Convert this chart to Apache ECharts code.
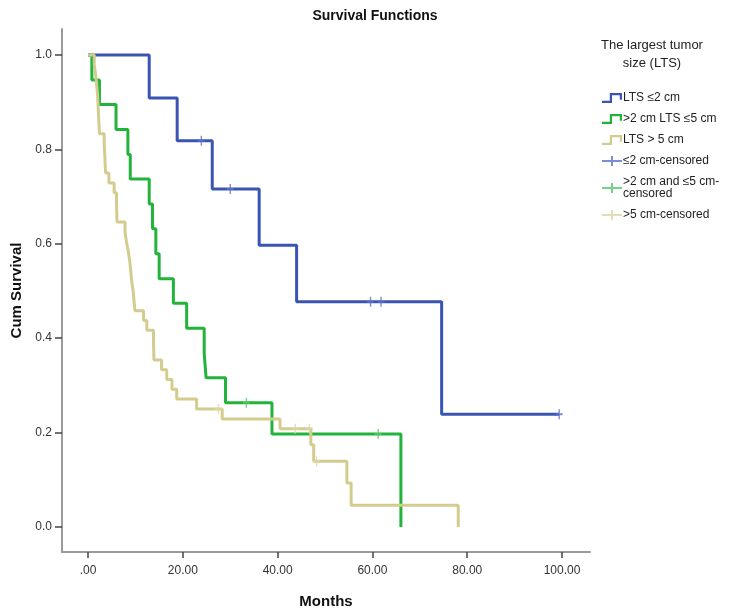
<!DOCTYPE html>
<html>
<head>
<meta charset="utf-8">
<script src="https://cdn.jsdelivr.net/npm/echarts@6/dist/echarts.min.js"></script>
<style>html,body{margin:0;padding:0;background:#fff}#c{width:735px;height:613px}</style>
</head>
<body>
<div id="c"></div>
<script>
// ---- data (months, cumulative survival) ----
const seriesNames = ['LTS \u22642 cm', '>2 cm LTS \u22645 cm', 'LTS > 5 cm',
  '\u22642 cm-censored', '>2 cm and \u22645 cm-\ncensored', '>5 cm-censored'];

const blueSteps = [[0,1],[12.9,0.909],[18.8,0.818],[26.2,0.716],[36.1,0.597],[44.0,0.477],[74.6,0.239],[99.4,0.239]];
const greenSteps = [[0,1],[0.8,0.947],[2.4,0.895],[5.9,0.842],[8.4,0.789],[8.9,0.737],[12.9,0.684],[13.6,0.632],
  [14.3,0.579],[15.0,0.526],[18.0,0.474],[20.8,0.421],[24.5,0.368],[24.9,0.316],[29.0,0.263],[38.8,0.197],[66.0,0]];
const yellowSteps = [[0,1],[1.3,0.979],[1.6,0.958],[1.8,0.9375],[2.0,0.917],[2.1,0.896],[2.2,0.875],[2.3,0.854],
  [2.4,0.833],[3.4,0.8125],[3.5,0.792],[3.6,0.771],[3.7,0.75],[4.4,0.729],[5.5,0.708],[6.0,0.6875],[6.05,0.667],
  [6.1,0.646],[7.8,0.625],[8.1,0.604],[8.5,0.583],[8.8,0.5625],[9.0,0.542],[9.2,0.521],[9.5,0.5],[9.7,0.479],
  [9.9,0.458],[11.7,0.4375],[12.4,0.417],[13.8,0.396],[13.85,0.375],[13.9,0.354],[15.5,0.333],[16.6,0.3125],
  [17.7,0.292],[18.7,0.271],[22.9,0.25],[28.3,0.229],[40.5,0.208],[47.0,0.174],[47.6,0.139],[54.6,0.093],
  [55.5,0.046],[78.1,0]];

const blueCensored = [[23.9,0.818],[30.0,0.716],[59.6,0.477],[61.8,0.477],[99.4,0.239]];
const greenCensored = [[33.4,0.263],[61.2,0.197]];
const yellowCensored = [[27.5,0.25],[43.7,0.208],[46.7,0.208],[48.2,0.139]];

const xTicks = [0,20,40,60,80,100];
const yTicks = [0,0.2,0.4,0.6,0.8,1.0];

// ---- styling ----
const C_BLUE = '#3a54b4', C_GREEN = '#22b43a', C_YEL = '#d4cc8e';
const C_BLUE_C = '#5a72c8', C_GREEN_C = '#52c864', C_YEL_C = '#dcd6a6';
const FONT = 'Liberation Sans, Arial, sans-serif';
const stepIcon = 'path://M0,7H7V0H18V6H16V2H9V9H0Z';
const plusIcon = 'path://M0,4H20V6H0Z M9,0H11V10H9Z';
const censorSym = 'path://M0,4H10V6H0Z M4,0H6V10H4Z';

const chart = echarts.init(document.getElementById('c'), null, {renderer: 'canvas'});

function lineSeries(name, data, color) {
  return {name, type: 'line', step: 'end', data, showSymbol: false, symbol: 'none',
    lineStyle: {color, width: 3}, itemStyle: {color}, animation: false, z: 2};
}
function censorSeries(name, data, color) {
  return {name, type: 'scatter', data, symbol: censorSym, symbolSize: [7, 10],
    itemStyle: {color}, animation: false, z: 3};
}

chart.setOption({
  backgroundColor: '#fff',
  animation: false,
  title: [
    {text: 'Survival Functions', left: 370, top: 4, textAlign: 'center',
      textStyle: {fontFamily: FONT, fontSize: 14, fontWeight: 'bold', color: '#111'}},
    {text: 'The largest tumor\nsize (LTS)', left: 647, top: 31, textAlign: 'center',
      textStyle: {fontFamily: FONT, fontSize: 13, fontWeight: 'normal', color: '#222', lineHeight: 18}}
  ],
  legend: {
    orient: 'vertical', left: 597, top: 87, itemWidth: 20, itemHeight: 10, itemGap: 9,
    selectedMode: false,
    textStyle: {fontFamily: FONT, fontSize: 12, color: '#222', lineHeight: 12, padding: [0, 0, 0, -4]},
    itemStyle: {borderWidth: 0},
    data: [
      {name: seriesNames[0], icon: stepIcon},
      {name: seriesNames[1], icon: stepIcon},
      {name: seriesNames[2], icon: stepIcon},
      {name: seriesNames[3], icon: plusIcon},
      {name: seriesNames[4], icon: plusIcon},
      {name: seriesNames[5], icon: plusIcon}
    ]
  },
  grid: {left: 62, top: 29, width: 528, height: 523, containLabel: false, outerBoundsMode: 'none'},
  xAxis: {
    type: 'value', min: -5.5, max: 105.9,
    name: 'Months', nameLocation: 'middle', nameGap: 42,
    nameTextStyle: {fontFamily: FONT, fontSize: 15, fontWeight: 'bold', color: '#111'},
    axisLine: {show: true, onZero: false, lineStyle: {color: '#9a9a9a', width: 2}},
    axisTick: {show: true, length: 6, customValues: xTicks, lineStyle: {color: '#444', width: 1.5}},
    axisLabel: {customValues: xTicks, margin: 13, fontFamily: FONT, fontSize: 12, color: '#333',
      formatter: v => v === 0 ? '.00' : v.toFixed(2)},
    splitLine: {show: false}
  },
  yAxis: {
    type: 'value', min: -0.053, max: 1.055,
    name: 'Cum Survival', nameLocation: 'middle', nameGap: 29, nameRotate: 90,
    nameTextStyle: {fontFamily: FONT, fontSize: 15, fontWeight: 'bold', color: '#111'},
    axisLine: {show: true, onZero: false, lineStyle: {color: '#9a9a9a', width: 2}},
    axisTick: {show: true, length: 7, customValues: yTicks, lineStyle: {color: '#444', width: 1.5}},
    axisLabel: {customValues: yTicks, margin: 10, fontFamily: FONT, fontSize: 12, color: '#333',
      formatter: v => v.toFixed(1)},
    splitLine: {show: false}
  },
  series: [
    lineSeries(seriesNames[0], blueSteps, C_BLUE),
    lineSeries(seriesNames[1], greenSteps, C_GREEN),
    lineSeries(seriesNames[2], yellowSteps, C_YEL),
    censorSeries(seriesNames[3], blueCensored, C_BLUE_C),
    censorSeries(seriesNames[4], greenCensored, C_GREEN_C),
    censorSeries(seriesNames[5], yellowCensored, C_YEL_C)
  ]
});
</script>
</body>
</html>
